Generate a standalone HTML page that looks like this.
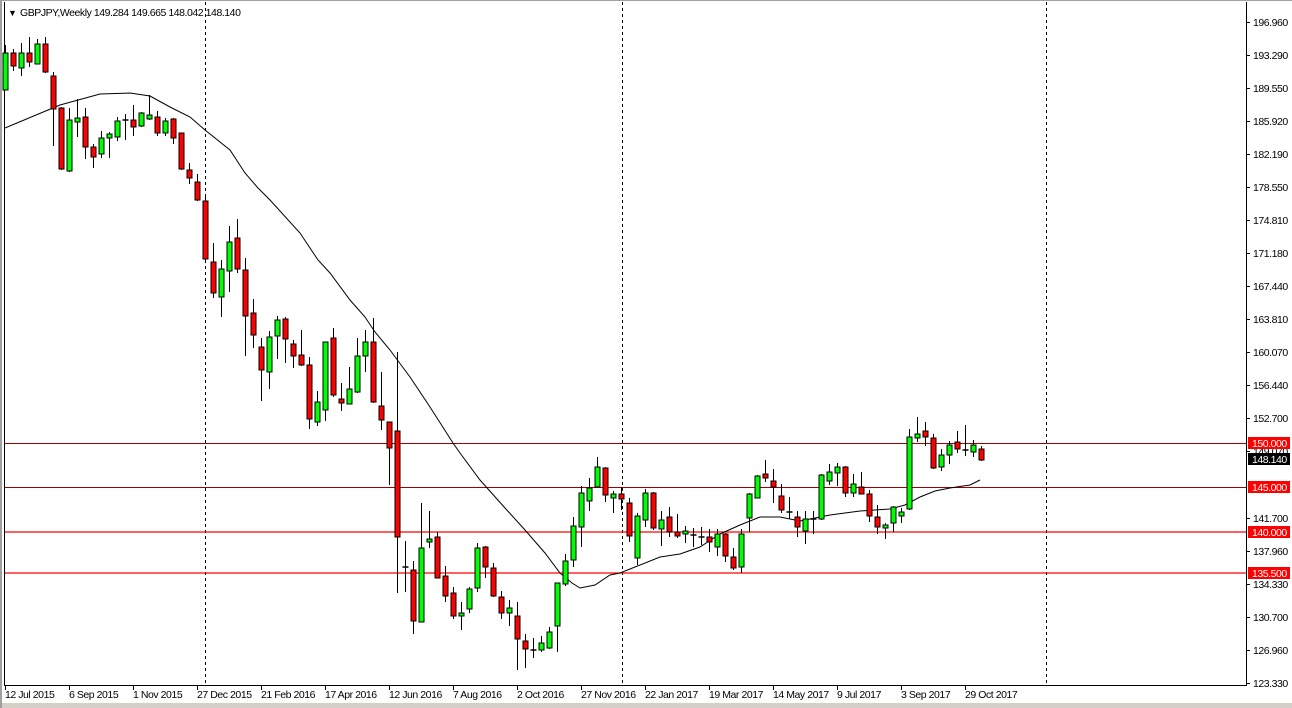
<!DOCTYPE html>
<html><head><meta charset="utf-8"><style>
html,body{margin:0;padding:0;background:#fff;}
svg{display:block;font-family:"Liberation Sans",Arial,sans-serif;font-size:10.5px;letter-spacing:-0.45px;}
</style></head><body>
<svg id="s" width="1292" height="708" xmlns="http://www.w3.org/2000/svg">
<rect x="0" y="0" width="1292" height="708" fill="#fff"/>
<rect x="0" y="703" width="1292" height="5" fill="#d4d0c8"/>
<rect x="0" y="0" width="2" height="708" fill="#a0a0a0"/>
<rect x="2" y="0" width="1290" height="1" fill="#a0a0a0"/>
<line x1="4.5" y1="2" x2="4.5" y2="686" stroke="#000"/>
<line x1="4" y1="685.5" x2="1247" y2="685.5" stroke="#000"/>
<line x1="1246.5" y1="2" x2="1246.5" y2="686" stroke="#000"/>
<g id="g"></g>
<text x="8" y="16" font-size="9">▼</text>
<text x="20" y="16">GBPJPY,Weekly  149.284 149.665 148.042 148.140</text>
</svg>
<script>
var g=document.getElementById('g'),h='';
[205,622,1046].forEach(function(x){h+='<line x1="'+(x+.5)+'" y1="2" x2="'+(x+.5)+'" y2="685" stroke="#000" stroke-dasharray="3,3"/>';});
h+='<line x1="5" y1="443.5" x2="1246" y2="443.5" stroke="#a00000"/>';
h+='<line x1="5" y1="487.5" x2="1246" y2="487.5" stroke="#a00000"/>';
h+='<line x1="5" y1="532" x2="1246" y2="532" stroke="#ff0000" stroke-width="1.3"/>';
h+='<line x1="5" y1="573" x2="1246" y2="573" stroke="#ff0000" stroke-width="1.3"/>';
var ma=[[5,128],[60,105],[100,94],[130,93],[150,96],[170,107],[190,117],[205,130],[230,150],[245,173],[258,188],[270,200],[300,233],[318,260],[330,273],[350,300],[365,317],[375,332],[390,350],[410,377],[430,407],[453,443],[460,453],[480,480],[505,508],[525,530],[545,553],[560,573],[572,583],[580,588],[595,585],[610,575],[620,573],[635,567],[660,557],[680,554],[700,547],[720,534],[740,525],[760,517],[780,517],[800,521],[830,515],[860,511],[890,509],[905,505],[920,497],[935,491],[950,488],[970,485],[980,480]];
h+='<polyline fill="none" stroke="#000" stroke-width="1" points="'+ma.map(function(p){return p.join(',')}).join(' ')+'"/>';
var c=[[90,53,45,90],[53,66,49,71],[68,53,43,76],[53,62,37,67],[64,44,39,64],[44,72,37,73],[76,109,72,146],[108,169,107,170],[171,120,108,172],[122,118,99,137],[117,147,108,159],[147,157,144,168],[154,138,131,158],[138,134,132,158],[137,121,117,141],[120,121,114,140],[120,127,105,136],[126,113,112,127],[119,115,95,120],[117,133,111,136],[133,121,118,136],[119,138,118,144],[133,169,133,170],[170,178,163,184],[182,200,174,201],[201,259,197,260],
[262,293,243,298],[297,269,260,317],[271,242,226,292],[238,269,219,273],[270,316,258,356],[313,335,299,348],[347,370,338,401],[372,337,331,389],[336,320,316,359],[319,339,317,363],[344,356,340,368],[355,365,330,366],[365,419,357,429],[422,402,391,426],[410,342,342,421],[338,395,328,397],[399,403,383,411],[404,389,367,404],[392,356,338,393],[356,342,330,372],[342,402,318,403],[406,420,372,430],[422,448,422,485],[431,537,352,593],
[567,567.5,541,592],[570,621,561,634],[622,548,503,622],[542,539,511,548],[537,578,532,578],[576,596,566,602],[593,616,587,619],[616,613,602,630],[609,589,587,613],[588,548,543,592],[547,567,546,578],[568,596,563,597],[597,613,591,619],[613,608,600,626],[616,639,602,670],[641,649,634,668],[650,650.5,638,658],[650,643,636,652],[648,632,627,649],[626,583,583,652],[584,561,554,586],[560,526,517,567],[527,493,486,547],[501,488,478,511],[487,467,457,487],[468,495,467,502],[498,494,491,513],[494,499,487,510],[503,536,498,542],[558,516,513,565],
[520,493,489,527],[493,528,492,530],[529,520,511,546],[517,532,507,537],[532,536,514,538],[534,531,526,543],[535,535.5,528,547],[537,537.5,527,545],[537,542,529,552],[547,534,529,556],[534,556,533,562],[557,568,548,570],[567,534,529,573],[518,494,493,532],[498,476,475,498],[474,478,460,482],[481,487,469,503],[496,510,484,513],[512,512.5,497,519],[517,527,511,537],[531,519,511,544],[519,519.5,511,534],
[519,475,474,520],[481,472,464,485],[473,467,463,486],[467,493,466,497],[493,484,474,497],[487,494,472,494],[494,516,490,522],[517,527,505,534],[528,525,523,539],[523,507,506,532],[516,512,508,523],[509,437,429,510],[438,434,417,442],[431,437,422,446],[438,468,434,469],[467,455,449,471],[455,445,441,464],[442,449,431,453],[450,450.5,425,456],[452,445,440,457],[449,460,446,461]];
c.forEach(function(d,i){
 var x=5+8*i+.5,o=d[0],cl=d[1],hi=d[2],lo=d[3];
 var up=cl<o, top=Math.min(o,cl), bot=Math.max(o,cl);
 h+='<line x1="'+x+'" y1="'+hi+'" x2="'+x+'" y2="'+lo+'" stroke="#000"/>';
 if(bot-top<1.5){h+='<line x1="'+(x-3)+'" y1="'+top+'" x2="'+(x+3)+'" y2="'+top+'" stroke="#000" stroke-width="1.5"/>';}
 else h+='<rect x="'+(x-2.5)+'" y="'+top+'" width="5" height="'+(bot-top)+'" fill="'+(up?'#00ff00':'#ff0000')+'" stroke="#000" stroke-width="1"/>';
});
var yl=[[22,'196.960'],[55,'193.290'],[88,'189.550'],[121,'185.920'],[154,'182.190'],[187,'178.550'],[220,'174.810'],[253,'171.180'],[286,'167.440'],[319,'163.810'],[352,'160.070'],[385,'156.440'],[418,'152.700'],[451,'149.070'],[518,'141.700'],[551,'137.960'],[584,'134.330'],[617,'130.700'],[650,'126.960'],[683,'123.330']];
yl.forEach(function(a){h+='<line x1="1246" y1="'+(a[0]+.5)+'" x2="1250" y2="'+(a[0]+.5)+'" stroke="#000"/><text x="1253" y="'+(a[0]+4)+'">'+a[1]+'</text>';});
[[443,'150.000','#ff0000','#fff'],[487,'145.000','#ff0000','#fff'],[532,'140.000','#ff0000','#fff'],[573,'135.500','#ff0000','#fff'],[459,'148.140','#000','#fff']].forEach(function(a){
 h+='<rect x="1248" y="'+(a[0]-6)+'" width="42" height="12" fill="'+a[2]+'"/><text x="1252" y="'+(a[0]+4)+'" fill="'+a[3]+'">'+a[1]+'</text>';});
var xl=['12 Jul 2015','6 Sep 2015','1 Nov 2015','27 Dec 2015','21 Feb 2016','17 Apr 2016','12 Jun 2016','7 Aug 2016','2 Oct 2016','27 Nov 2016','22 Jan 2017','19 Mar 2017','14 May 2017','9 Jul 2017','3 Sep 2017','29 Oct 2017'];
xl.forEach(function(t,i){var x=5+64*i;h+='<line x1="'+(x+.5)+'" y1="685" x2="'+(x+.5)+'" y2="690" stroke="#000"/><text x="'+(x)+'" y="698">'+t+'</text>';});
g.innerHTML=h;
</script>
</body></html>
